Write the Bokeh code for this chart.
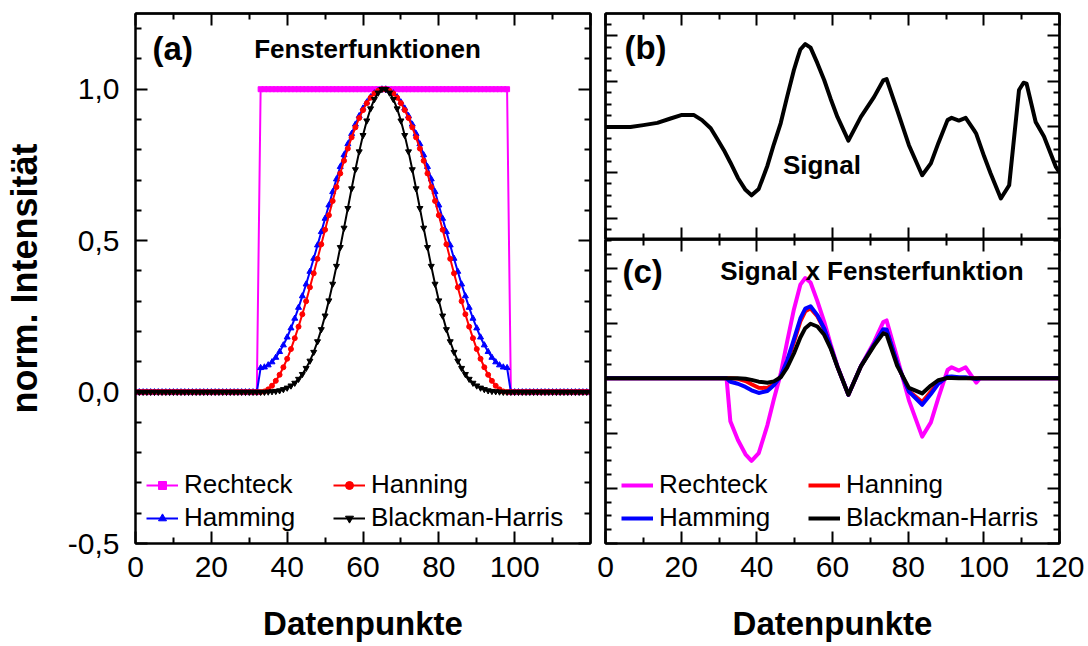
from bokeh.plotting import figure
from bokeh.models import (Range1d, LinearAxis, FixedTicker, CustomJSTickFormatter,
                          Label, Legend, LegendItem)
from bokeh.layouts import row, column
from bokeh.embed import file_html
from bokeh.resources import INLINE

FONT = "Liberation Sans"
MAGENTA = "#FF00FF"
RED = "#FF0000"
BLUE = "#0000FF"
BLACK = "#000000"

# ---------------- Panel (a): window functions, one point per data index ----------------
x_a = list(range(0, 121))

rechteck_a = [0.0] * 33 + [1.0] * 66 + [0.0] * 22

hamming_a = [0.0] * 33 + [
    0.080, 0.082, 0.089, 0.099, 0.114, 0.133, 0.155, 0.181, 0.211, 0.243, 0.279,
    0.317, 0.356, 0.398, 0.441, 0.485, 0.529, 0.573, 0.617, 0.661, 0.703, 0.744,
    0.783, 0.819, 0.853, 0.884, 0.912, 0.937, 0.957, 0.974, 0.987, 0.995, 1.000,
    1.000, 0.995, 0.987, 0.974, 0.957, 0.937, 0.912, 0.884, 0.853, 0.819, 0.783,
    0.744, 0.703, 0.661, 0.617, 0.573, 0.529, 0.485, 0.441, 0.398, 0.356, 0.317,
    0.279, 0.243, 0.211, 0.181, 0.155, 0.133, 0.114, 0.099, 0.089, 0.082, 0.080,
] + [0.0] * 22

hanning_a = [0.0] * 33 + [
    0.000, 0.002, 0.009, 0.021, 0.037, 0.057, 0.082, 0.110, 0.142, 0.178, 0.216,
    0.257, 0.300, 0.346, 0.392, 0.440, 0.488, 0.536, 0.584, 0.631, 0.677, 0.722,
    0.764, 0.804, 0.841, 0.874, 0.905, 0.931, 0.954, 0.972, 0.986, 0.995, 1.000,
    1.000, 0.995, 0.986, 0.972, 0.954, 0.931, 0.905, 0.874, 0.841, 0.804, 0.764,
    0.722, 0.677, 0.631, 0.584, 0.536, 0.488, 0.440, 0.392, 0.346, 0.300, 0.257,
    0.216, 0.178, 0.142, 0.110, 0.082, 0.057, 0.037, 0.021, 0.009, 0.002, 0.000,
] + [0.0] * 22

blackman_a = [0.0] * 33 + [
    0.000, 0.000, 0.001, 0.002, 0.003, 0.005, 0.009, 0.014, 0.021, 0.030, 0.043,
    0.059, 0.079, 0.103, 0.132, 0.167, 0.207, 0.252, 0.302, 0.357, 0.416, 0.478,
    0.542, 0.607, 0.672, 0.735, 0.794, 0.848, 0.896, 0.936, 0.967, 0.988, 1.000,
    1.000, 0.988, 0.967, 0.936, 0.896, 0.848, 0.794, 0.735, 0.672, 0.607, 0.542,
    0.478, 0.416, 0.357, 0.302, 0.252, 0.207, 0.167, 0.132, 0.103, 0.079, 0.059,
    0.043, 0.030, 0.021, 0.014, 0.009, 0.005, 0.003, 0.002, 0.001, 0.000, 0.000,
] + [0.0] * 22

# ---------------- Panel (b): signal ----------------
sig_x = [0, 3, 6.6, 10, 13.7, 17, 20, 23.4, 25.5, 27.8, 29.5, 31.3, 33, 35, 37, 38.6,
         40.5, 42.8, 44.5, 46.3, 48, 49.8, 50.8, 51.5, 52.8, 54.2, 56, 57.8, 59.5, 61.3,
         64.2, 67.5, 71, 73.4, 74.3, 77.1, 80.2, 83.7, 86, 88, 90.4, 91.5, 93.4, 95.2,
         97.4, 98, 100.1, 101.8, 104.5, 106.7, 109.3, 110.5, 111.3, 113.7, 115.9, 119, 120]
sig_y = [0.0, 0.0, 0.0, 0.04, 0.09, 0.18, 0.26, 0.26, 0.15, -0.03, -0.26, -0.51, -0.78,
         -1.12, -1.38, -1.50, -1.36, -0.85, -0.38, 0.08, 0.66, 1.25, 1.52, 1.70, 1.82,
         1.74, 1.40, 1.03, 0.62, 0.22, -0.30, 0.22, 0.66, 1.02, 1.05, 0.37, -0.40, -1.06,
         -0.80, -0.35, 0.15, 0.20, 0.14, 0.20, -0.07, -0.15, -0.65, -1.02, -1.57, -1.28,
         0.81, 0.97, 0.95, 0.11, -0.21, -0.87, -1.00]

# ---------------- Panel (c): signal x window ----------------
c_x = [0, 32, 33, 35, 37, 38.6, 40.5, 42.8, 44.5, 46.3, 48, 49.8, 51.5, 52.8, 54.2, 56,
       57.8, 59.5, 61.3, 64.2, 67.5, 71, 73.4, 74.3, 77.1, 80.2, 83.7, 86, 88, 90.4,
       91.5, 93.4, 95.2, 97.4, 98, 99, 120]
c_rechteck = [0, 0, -0.78, -1.12, -1.38, -1.50, -1.36, -0.85, -0.38, 0.08, 0.66, 1.25,
              1.70, 1.82, 1.74, 1.40, 1.03, 0.62, 0.22, -0.30, 0.22, 0.66, 1.02, 1.05,
              0.37, -0.40, -1.06, -0.80, -0.35, 0.15, 0.20, 0.14, 0.20, -0.02, -0.08, 0, 0]
c_hanning = [0, 0, 0, -0.010, -0.051, -0.108, -0.171, -0.177, -0.106, 0.029, 0.290,
             0.658, 1.033, 1.216, 1.270, 1.125, 0.894, 0.569, 0.211, -0.299, 0.218,
             0.614, 0.878, 0.871, 0.265, -0.230, -0.431, -0.240, -0.076, 0.019, 0.019,
             0.007, 0.004, 0, 0, 0, 0]
c_hamming = [0, 0, -0.062, -0.099, -0.157, -0.219, -0.267, -0.231, -0.128, 0.033, 0.320,
             0.706, 1.086, 1.264, 1.308, 1.147, 0.904, 0.573, 0.212, -0.299, 0.218,
             0.618, 0.889, 0.885, 0.274, -0.243, -0.481, -0.285, -0.098, 0.030, 0.034,
             0.018, 0.019, -0.006, -0.012, 0, 0]
c_blackman = [0, 0, 0, -0.001, -0.010, -0.029, -0.061, -0.081, -0.056, 0.017, 0.192,
              0.45, 0.74, 0.91, 0.99, 0.94, 0.79, 0.545, 0.207, -0.298, 0.217, 0.593,
              0.815, 0.793, 0.225, -0.174, -0.275, -0.132, -0.035, 0.007, 0.006, 0.002,
              0, 0, 0, 0, 0]

legend_labels = ["Rechteck", "Hamming", "Hanning", "Blackman-Harris"]

# ---------------- tick positions ----------------
X_MAJ = [0, 20, 40, 60, 80, 100, 120]
X_MIN = [10, 30, 50, 70, 90, 110]
YA_MAJ = [-0.5, 0.0, 0.5, 1.0]
YA_MIN = [-0.4, -0.3, -0.2, -0.1, 0.1, 0.2, 0.3, 0.4, 0.6, 0.7, 0.8, 0.9, 1.1, 1.2]
YB_MAJ = [-2, -1, 0, 1, 2]
YB_MIN = [-2.25, -1.75, -1.5, -1.25, -0.75, -0.5, -0.25, 0.25, 0.5, 0.75,
          1.25, 1.5, 1.75, 2.25]
YC_MAJ = [-3, -2, -1, 0, 1, 2]
YC_MIN = [-2.75, -2.5, -2.25, -1.75, -1.5, -1.25, -0.75, -0.5, -0.25, 0.25, 0.5, 0.75,
          1.25, 1.5, 1.75, 2.25, 2.5]


def make_fig(fw, fh, yr, left, right, top, bottom):
    p = figure(frame_width=fw, frame_height=fh, x_range=Range1d(0, 120),
               y_range=Range1d(*yr), x_axis_type=None, y_axis_type=None,
               toolbar_location=None, output_backend="svg",
               min_border_left=left, min_border_right=right,
               min_border_top=top, min_border_bottom=bottom)
    p.outline_line_color = "black"
    p.outline_line_width = 2
    p.background_fill_color = "white"
    p.border_fill_color = "white"
    return p


def style_ticks(ax):
    ax.axis_line_width = 2
    ax.axis_line_color = "black"
    ax.major_tick_in = 12
    ax.major_tick_out = 0
    ax.minor_tick_out = 0
    ax.major_tick_line_width = 2
    ax.minor_tick_line_width = 2
    ax.major_tick_line_color = "black"
    ax.minor_tick_line_color = "black"


def add_label_axis(p, side, majors, minors, formatter, label, standoff, label_standoff,
                   label_size):
    ax = LinearAxis(ticker=FixedTicker(ticks=majors, minor_ticks=minors))
    style_ticks(ax)
    ax.minor_tick_in = 6
    ax.formatter = formatter
    ax.major_label_text_font = FONT
    ax.major_label_text_font_size = "30px"
    ax.major_label_text_color = "black"
    ax.major_label_standoff = standoff
    ax.axis_label = label
    ax.axis_label_text_font = FONT
    ax.axis_label_text_font_style = "bold"
    ax.axis_label_text_font_size = label_size
    ax.axis_label_text_color = "black"
    ax.axis_label_standoff = label_standoff
    p.add_layout(ax, side)


def add_plain_ticks(p, side, majors, minors):
    # unlabeled mirror ticks: long ticks and short ticks, no tick labels at all
    for positions, length in ((majors, 12), (minors, 6)):
        ax = LinearAxis(ticker=FixedTicker(ticks=[], minor_ticks=positions))
        style_ticks(ax)
        ax.minor_tick_in = length
        ax.major_label_standoff = 0
        p.add_layout(ax, side)


def make_legend(items, loc):
    return Legend(items=items, location=loc, ncols=2, orientation="vertical",
                  border_line_color=None, background_fill_alpha=0, padding=0, margin=0,
                  spacing=2, glyph_width=32, glyph_height=20, label_standoff=6,
                  label_width=147, label_text_font=FONT, label_text_font_size="26px",
                  label_text_color="black")


fmt_x_a = CustomJSTickFormatter(code="return tick > 110 ? '' : tick.toFixed(0);")
fmt_x_c = CustomJSTickFormatter(code="return tick.toFixed(0);")
fmt_y_a = CustomJSTickFormatter(
    code="if (Math.abs(tick) < 1e-9) { return '0,0'; } return tick.toFixed(1).replace('.', ',');")

# ---------------- Figure (a) ----------------
pa = make_fig(455, 530, (-0.5, 1.25), 131, 5, 13, 103)
add_label_axis(pa, "below", X_MAJ[:-1], X_MIN, fmt_x_a, "Datenpunkte", 13, 25, "33px")
add_label_axis(pa, "left", YA_MAJ, YA_MIN, fmt_y_a, "norm. Intensität", 16, 20, "36px")
add_plain_ticks(pa, "above", X_MAJ, X_MIN)
add_plain_ticks(pa, "right", YA_MAJ, YA_MIN)

r_rl = pa.line(x_a, rechteck_a, line_color=MAGENTA, line_width=2)
r_rm = pa.scatter(x_a, rechteck_a, marker="square", size=5, color=MAGENTA)
r_hml = pa.line(x_a, hamming_a, line_color=BLUE, line_width=2)
r_hmm = pa.scatter(x_a, hamming_a, marker="triangle", size=6, color=BLUE)
r_hnl = pa.line(x_a, hanning_a, line_color=RED, line_width=2)
r_hnm = pa.scatter(x_a, hanning_a, marker="circle", size=5, color=RED)
r_bhl = pa.line(x_a, blackman_a, line_color=BLACK, line_width=2)
r_bhm = pa.scatter(x_a, blackman_a, marker="inverted_triangle", size=6, color=BLACK)

pa.add_layout(make_legend([
    LegendItem(label=legend_labels[0], renderers=[r_rl, r_rm]),
    LegendItem(label=legend_labels[1], renderers=[r_hml, r_hmm]),
    LegendItem(label=legend_labels[2], renderers=[r_hnl, r_hnm]),
    LegendItem(label=legend_labels[3], renderers=[r_bhl, r_bhm]),
], (11, 10)))

pa.add_layout(Label(x=4.5, y=1.134, text="(a)", text_font=FONT, text_font_style="bold",
                    text_font_size="33px", text_baseline="middle", text_color="black"))
pa.add_layout(Label(x=61.2, y=1.134, text="Fensterfunktionen", text_font=FONT,
                    text_font_style="bold", text_font_size="26px", text_baseline="middle",
                    text_align="center", text_color="black"))

# ---------------- Figure (b) ----------------
pb = make_fig(454, 226, (-2.47, 2.49), 10, 28, 13, 0)
add_plain_ticks(pb, "below", X_MAJ, X_MIN)
add_plain_ticks(pb, "above", X_MAJ, X_MIN)
add_plain_ticks(pb, "left", YB_MAJ, YB_MIN)
add_plain_ticks(pb, "right", YB_MAJ, YB_MIN)
pb.line(sig_x, sig_y, line_color=BLACK, line_width=4, line_join="round")
pb.add_layout(Label(x=5.0, y=1.74, text="(b)", text_font=FONT, text_font_style="bold",
                    text_font_size="33px", text_baseline="middle", text_color="black"))
pb.add_layout(Label(x=57.2, y=-0.84, text="Signal", text_font=FONT, text_font_style="bold",
                    text_font_size="26px", text_baseline="middle", text_align="center",
                    text_color="black"))

# ---------------- Figure (c) ----------------
pc = make_fig(454, 304, (-3.0, 2.52), 10, 28, 0, 103)
add_label_axis(pc, "below", X_MAJ, X_MIN, fmt_x_c, "Datenpunkte", 13, 25, "33px")
add_plain_ticks(pc, "above", X_MAJ, X_MIN)
add_plain_ticks(pc, "left", YC_MAJ, YC_MIN)
add_plain_ticks(pc, "right", YC_MAJ, YC_MIN)

c_r = pc.line(c_x, c_rechteck, line_color=MAGENTA, line_width=4, line_join="round")
c_hn = pc.line(c_x, c_hanning, line_color=RED, line_width=4, line_join="round")
c_hm = pc.line(c_x, c_hamming, line_color=BLUE, line_width=4, line_join="round")
c_bh = pc.line(c_x, c_blackman, line_color=BLACK, line_width=4, line_join="round")

pc.add_layout(make_legend([
    LegendItem(label=legend_labels[0], renderers=[c_r]),
    LegendItem(label=legend_labels[1], renderers=[c_hm]),
    LegendItem(label=legend_labels[2], renderers=[c_hn]),
    LegendItem(label=legend_labels[3], renderers=[c_bh]),
], (16, 10)))

pc.add_layout(Label(x=4.5, y=1.93, text="(c)", text_font=FONT, text_font_style="bold",
                    text_font_size="33px", text_baseline="middle", text_color="black"))
pc.add_layout(Label(x=70.4, y=1.94, text="Signal x Fensterfunktion", text_font=FONT,
                    text_font_style="bold", text_font_size="26px", text_baseline="middle",
                    text_align="center", text_color="black"))

layout = row(pa, column(pb, pc, spacing=0), spacing=0)

with open("out.html", "w") as f:
    f.write(file_html(layout, INLINE))
